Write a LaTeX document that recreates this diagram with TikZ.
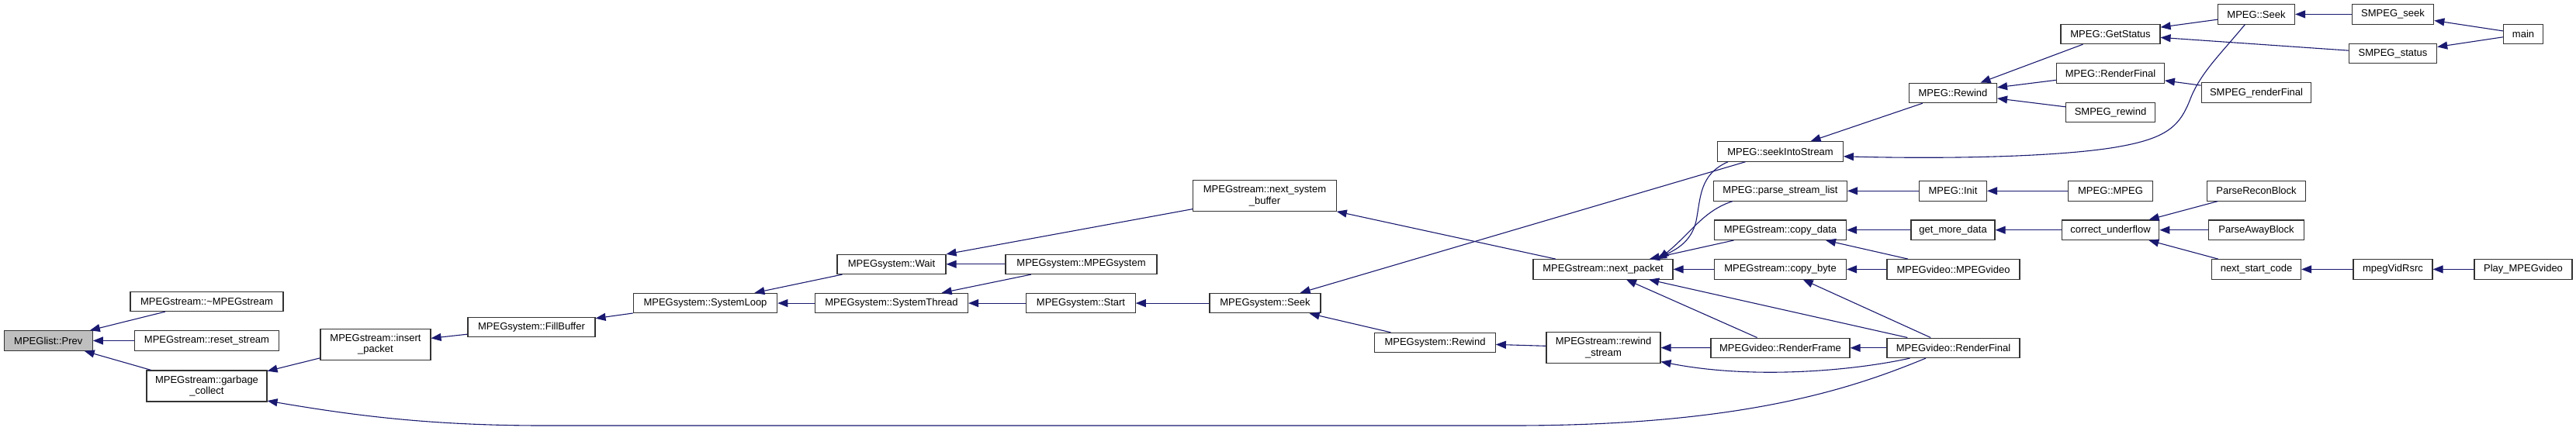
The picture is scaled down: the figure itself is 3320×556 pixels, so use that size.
\documentclass[tikz,border=0pt]{standalone}
\usepackage{fontspec}
\setmainfont{Liberation Sans}
\usetikzlibrary{arrows.meta}
\definecolor{edgec}{HTML}{191970}
\definecolor{boxc}{HTML}{333333}
\definecolor{prevfill}{HTML}{BFBFBF}
\tikzset{
  box/.style={draw=boxc, line width=1.1pt, fill=white, inner sep=0pt, minimum height=25.5pt,
    font=\fontsize{13}{14.5}\selectfont, align=center, text=black},
  boxtwo/.style={box, minimum height=40pt},
  arr/.style={draw=edgec, line width=1.1pt, -{Triangle[length=13pt,width=10pt]}}
}
\begin{document}
\begin{tikzpicture}[x=1pt,y=-1pt]
\useasboundingbox (0,0) rectangle (3320,556);
% nodes
\node[box, fill=prevfill, minimum width=114pt] (prev) at (62.3,439.5) {MPEGlist::Prev};
\node[box, minimum width=197pt] (dtor) at (266.5,388.8) {MPEGstream::\textasciitilde MPEGstream};
\node[box, minimum width=185.7pt] (reset) at (266.5,439.5) {MPEGstream::reset\_stream};
\node[boxtwo, minimum width=155pt] (gc) at (266.5,498) {MPEGstream::garbage\\\_collect};
\node[boxtwo, minimum width=142pt] (insert) at (484,444.2) {MPEGstream::insert\\\_packet};
\node[box, minimum width=164pt] (fill) at (685,422.1) {MPEGsystem::FillBuffer};
\node[box, minimum width=185.5pt] (sloop) at (909,391.1) {MPEGsystem::SystemLoop};
\node[box, minimum width=140pt] (wait) at (1149,340.8) {MPEGsystem::Wait};
\node[box, minimum width=197pt] (sthread) at (1149,391.1) {MPEGsystem::SystemThread};
\node[boxtwo, minimum width=184.5pt] (nsb) at (1630,252.7) {MPEGstream::next\_system\\\_buffer};
\node[box, minimum width=195pt] (msys) at (1393.5,340.8) {MPEGsystem::MPEGsystem};
\node[box, minimum width=140.4pt] (start) at (1393,391.1) {MPEGsystem::Start};
\node[box, minimum width=143pt] (sseek) at (1630.5,391.1) {MPEGsystem::Seek};
\node[box, minimum width=155.7pt] (srew) at (1849.5,442.1) {MPEGsystem::Rewind};
\node[box, minimum width=180pt] (npack) at (2066,347.4) {MPEGstream::next\_packet};
\node[boxtwo, minimum width=147pt] (rstream) at (2066.5,448.5) {MPEGstream::rewind\\\_stream};
\node[box, minimum width=161.7pt] (seekinto) at (2294.5,195.5) {MPEG::seekIntoStream};
\node[box, minimum width=172pt] (parse) at (2294.5,246.3) {MPEG::parse\_stream\_list};
\node[box, minimum width=170pt] (cdata) at (2294.5,296.7) {MPEGstream::copy\_data};
\node[box, minimum width=170pt] (cbyte) at (2294.5,347.4) {MPEGstream::copy\_byte};
\node[box, minimum width=179pt] (rframe) at (2294.5,448.8) {MPEGvideo::RenderFrame};
\node[box, minimum width=113pt] (mrew) at (2517,119.9) {MPEG::Rewind};
\node[box, minimum width=87pt] (minit) at (2517,246.3) {MPEG::Init};
\node[box, minimum width=108pt] (gmd) at (2517,296.7) {get\_more\_data};
\node[box, minimum width=171pt] (mvid) at (2517.5,347.4) {MPEGvideo::MPEGvideo};
\node[box, minimum width=171pt] (rfinal) at (2517.5,448.8) {MPEGvideo::RenderFinal};
\node[box, minimum width=128pt] (gstat) at (2720,43.9) {MPEG::GetStatus};
\node[box, minimum width=138.7pt] (mrfinal) at (2720,94.6) {MPEG::RenderFinal};
\node[box, minimum width=115pt] (srewind) at (2720,145) {SMPEG\_rewind};
\node[box, minimum width=108.6pt] (mmpeg) at (2720,246.3) {MPEG::MPEG};
\node[box, minimum width=125.5pt] (cuf) at (2720,296.7) {correct\_underflow};
\node[box, minimum width=99pt] (mseek) at (2908,18.4) {MPEG::Seek};
\node[box, minimum width=141.7pt] (srfinal) at (2908,119.7) {SMPEG\_renderFinal};
\node[box, minimum width=127pt] (precon) at (2908,246.3) {ParseReconBlock};
\node[box, minimum width=122.8pt] (paway) at (2908,296.7) {ParseAwayBlock};
\node[box, minimum width=115pt] (nsc) at (2908,347.4) {next\_start\_code};
\node[box, minimum width=105.6pt] (sseekfn) at (3084,18.4) {SMPEG\_seek};
\node[box, minimum width=113.3pt] (sstatus) at (3084,69.1) {SMPEG\_status};
\node[box, minimum width=102pt] (mvr) at (3084,347.4) {mpegVidRsrc};
\node[box, minimum width=51pt] (main) at (3252,43.9) {main};
\node[box, minimum width=126pt] (play) at (3252,347.4) {Play\_MPEGvideo};
% straight edges (caller -> callee)
\draw[arr] (dtor) -- (prev);
\draw[arr] (reset) -- (prev);
\draw[arr] (gc) -- (prev);
\draw[arr] (insert) -- (gc);
\draw[arr] (fill) -- (insert);
\draw[arr] (sloop) -- (fill);
\draw[arr] (wait) -- (sloop);
\draw[arr] (sthread) -- (sloop);
\draw[arr] (nsb) -- (wait);
\draw[arr] (msys) -- (wait);
\draw[arr] (msys) -- (sthread);
\draw[arr] (start) -- (sthread);
\draw[arr] (sseek) -- (start);
\draw[arr] (seekinto) -- (sseek);
\draw[arr] (srew) -- (sseek);
\draw[arr] (npack) -- (nsb);
\draw[arr] (rstream) -- (srew);
\draw[arr] (cdata) -- (npack);
\draw[arr] (cbyte) -- (npack);
\draw[arr] (rframe) -- (npack);
\draw[arr] (rfinal) -- (npack);
\draw[arr] (rframe) -- (rstream);
\draw[arr] (mrew) -- (seekinto);
\draw[arr] (minit) -- (parse);
\draw[arr] (gmd) -- (cdata);
\draw[arr] (mvid) -- (cdata);
\draw[arr] (mvid) -- (cbyte);
\draw[arr] (rfinal) -- (cbyte);
\draw[arr] (rfinal) -- (rframe);
\draw[arr] (gstat) -- (mrew);
\draw[arr] (mrfinal) -- (mrew);
\draw[arr] (srewind) -- (mrew);
\draw[arr] (mmpeg) -- (minit);
\draw[arr] (cuf) -- (gmd);
\draw[arr] (mseek) -- (gstat);
\draw[arr] (sstatus) -- (gstat);
\draw[arr] (srfinal) -- (mrfinal);
\draw[arr] (precon) -- (cuf);
\draw[arr] (paway) -- (cuf);
\draw[arr] (nsc) -- (cuf);
\draw[arr] (sseekfn) -- (mseek);
\draw[arr] (main) -- (sseekfn);
\draw[arr] (main) -- (sstatus);
\draw[arr] (mvr) -- (nsc);
\draw[arr] (play) -- (mvr);
% curved edges
\draw[arr] ([xshift=-35.5pt]rfinal.south) .. controls (2390,500) and (2250,549) .. (1950,549)
  -- (700,549) .. controls (550,549) and (450,535) .. ([yshift=1.5pt]gc.south east);
\draw[arr] ([xshift=-56pt]rfinal.south) .. controls (2390,478) and (2260,490) .. ([yshift=2.5pt]rstream.south east);
\draw[arr] ([xshift=-67.5pt]seekinto.south) .. controls (2190,225) and (2192,255) .. (2186,285)
  .. controls (2180,312) and (2160,322) .. ([xshift=69pt]npack.north);
\draw[arr] ([xshift=-61.5pt]parse.south) .. controls (2195,272) and (2180,300) .. ([xshift=72pt]npack.north);
\draw[arr] ([xshift=-14.7pt]mseek.south) .. controls (2860,72) and (2835,95) .. (2822,130)
  .. controls (2808,165) and (2790,180) .. (2720,191)
  .. controls (2640,203) and (2500,205) .. ([yshift=-6.3pt]seekinto.east);
\end{tikzpicture}
\end{document}
